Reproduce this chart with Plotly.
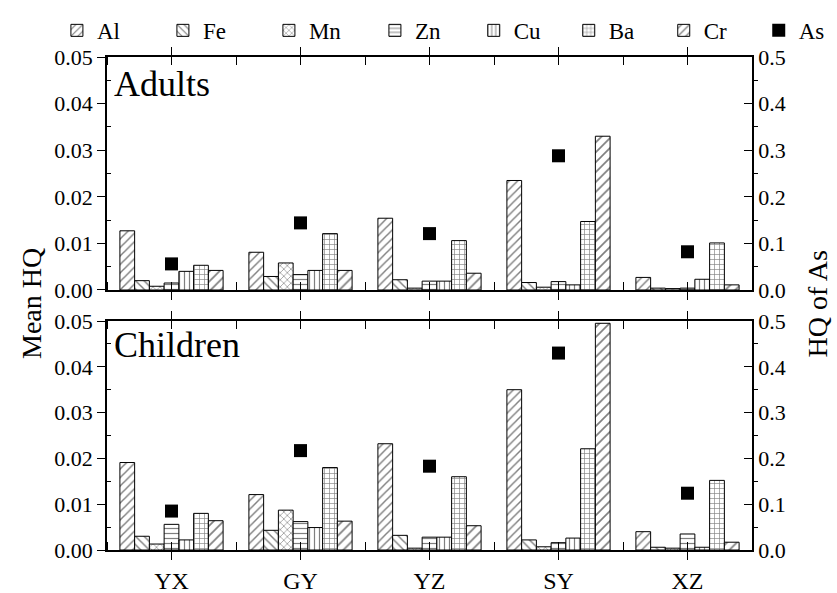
import plotly.graph_objects as go

categories = ["YX", "GY", "YZ", "SY", "XZ"]
elements = ["Al", "Fe", "Mn", "Zn", "Cu", "Ba", "Cr"]

adults = {
    "Al": [0.0127, 0.0081, 0.0154, 0.0235, 0.0027],
    "Fe": [0.0020, 0.0029, 0.0022, 0.0016, 0.0004],
    "Mn": [0.0008, 0.0058, 0.0004, 0.0006, 0.0003],
    "Zn": [0.0015, 0.0033, 0.0019, 0.0018, 0.0004],
    "Cu": [0.0040, 0.0042, 0.0019, 0.0011, 0.0023],
    "Ba": [0.0053, 0.0121, 0.0106, 0.0147, 0.0101],
    "Cr": [0.0042, 0.0042, 0.0036, 0.0330, 0.0011],
}
adults_as = [0.056, 0.144, 0.121, 0.288, 0.082]

children = {
    "Al": [0.0191, 0.0121, 0.0232, 0.0350, 0.0040],
    "Fe": [0.0030, 0.0043, 0.0032, 0.0022, 0.0006],
    "Mn": [0.0013, 0.0087, 0.0004, 0.0007, 0.0004],
    "Zn": [0.0056, 0.0062, 0.0028, 0.0016, 0.0035],
    "Cu": [0.0022, 0.0049, 0.0028, 0.0026, 0.0006],
    "Ba": [0.0080, 0.0180, 0.0160, 0.0221, 0.0152],
    "Cr": [0.0064, 0.0063, 0.0053, 0.0495, 0.0017],
}
children_as = [0.085, 0.217, 0.183, 0.430, 0.124]

left_ticks = [0.00, 0.01, 0.02, 0.03, 0.04, 0.05]
right_ticks = [0.0, 0.1, 0.2, 0.3, 0.4, 0.5]

patterns = {"Al": "/", "Fe": "\\", "Mn": "x", "Zn": "-", "Cu": "|", "Ba": "+", "Cr": "/"}
psize = {"Al": 6, "Fe": 6, "Mn": 5, "Zn": 5, "Cu": 5, "Ba": 5, "Cr": 7}
legend_of = {"Al": "legend", "Fe": "legend", "Mn": "legend", "Zn": "legend",
             "Cu": "legend2", "Ba": "legend2", "Cr": "legend2", "As": "legend2"}

FONT = "Times New Roman, Liberation Serif, serif"
xpos = list(range(len(categories)))

fig = go.Figure()

for panel, data, asv, xa, ya, ya2 in [
    ("A", adults, adults_as, "x", "y", "y2"),
    ("C", children, children_as, "x2", "y3", "y4"),
]:
    for el in elements:
        fig.add_trace(go.Bar(
            x=xpos, y=data[el], name=el, xaxis=xa, yaxis=ya,
            showlegend=(panel == "A"), legendgroup=el, legend=legend_of[el],
            marker=dict(color="white",
                        line=dict(color="black", width=1),
                        pattern=dict(shape=patterns[el], fgcolor="black",
                                     bgcolor="white", size=psize[el], solidity=0.24)),
        ))
    fig.add_trace(go.Scatter(
        x=xpos, y=asv, name="As", mode="markers", xaxis=xa, yaxis=ya2,
        showlegend=(panel == "A"), legendgroup="As", legend=legend_of["As"],
        marker=dict(symbol="square", size=13, color="black"),
    ))

top_dom = [0.5274, 1.0]
bot_dom = [0.0, 0.4645]

xcommon = dict(range=[-0.5, 4.5], showline=True, linecolor="black", linewidth=1.5,
               mirror="allticks", tickmode="array", tickvals=xpos, ticktext=categories,
               ticks="outside", ticklen=8, tickwidth=1.2, tickcolor="black",
               minor=dict(tickmode="array", tickvals=[-0.5 + i for i in range(6)],
                          ticks="inside", ticklen=4, tickwidth=1, tickcolor="black"),
               showgrid=False, zeroline=False,
               tickfont=dict(family=FONT, size=24, color="black"))

ycommon = dict(range=[0, 0.05], tickmode="array", tickvals=left_ticks,
               ticktext=["%.2f" % v for v in left_ticks],
               showline=True, linecolor="black", linewidth=1.5,
               ticks="outside", ticklen=8, tickwidth=1.2, tickcolor="black",
               minor=dict(tickmode="array", tickvals=[0.005, 0.015, 0.025, 0.035, 0.045],
                          ticks="inside", ticklen=4, tickwidth=1, tickcolor="black"),
               showgrid=False, zeroline=False,
               tickfont=dict(family=FONT, size=22, color="black"))

y2common = dict(range=[0, 0.5], tickmode="array", tickvals=right_ticks,
                ticktext=["%.1f" % v for v in right_ticks], side="right",
                showline=True, linecolor="black", linewidth=1.5,
                ticks="inside", ticklen=8, tickwidth=1.2, tickcolor="black",
                minor=dict(tickmode="array", tickvals=[0.05, 0.15, 0.25, 0.35, 0.45],
                           ticks="outside", ticklen=4, tickwidth=1, tickcolor="black"),
                showgrid=False, zeroline=False,
                tickfont=dict(family=FONT, size=22, color="black"))

legend_common = dict(orientation="h", xref="container", yref="container",
                     y=0.985, xanchor="left", yanchor="top",
                     entrywidthmode="pixels", itemwidth=30,
                     font=dict(family=FONT, size=23, color="black"),
                     bgcolor="rgba(0,0,0,0)", tracegroupgap=0)

fig.update_layout(
    width=837, height=593,
    margin=dict(l=107, r=85, t=57, b=43, autoexpand=False),
    plot_bgcolor="white", paper_bgcolor="white",
    barmode="group", bargap=0.2, bargroupgap=0,
    font=dict(family=FONT, color="black"),
    xaxis=dict(xcommon, anchor="y", domain=[0, 1], showticklabels=False),
    xaxis2=dict(xcommon, anchor="y3", domain=[0, 1]),
    yaxis=dict(ycommon, domain=top_dom, anchor="x"),
    yaxis2=dict(y2common, overlaying="y", anchor="x"),
    yaxis3=dict(ycommon, domain=bot_dom, anchor="x2"),
    yaxis4=dict(y2common, overlaying="y3", anchor="x2"),
    legend=dict(legend_common, x=0.068, entrywidth=61),
    legend2=dict(legend_common, x=0.566, entrywidth=50),
    annotations=[
        dict(text="Adults", xref="paper", yref="paper", x=0.008, y=0.99,
             xanchor="left", yanchor="top", showarrow=False,
             font=dict(family=FONT, size=36, color="black")),
        dict(text="Children", xref="paper", yref="paper", x=0.008, y=0.46,
             xanchor="left", yanchor="top", showarrow=False,
             font=dict(family=FONT, size=36, color="black")),
        dict(text="Mean HQ", xref="paper", yref="paper", x=-0.09, y=0.5,
             xanchor="right", yanchor="middle", textangle=-90, showarrow=False,
             font=dict(family=FONT, size=28, color="black")),
        dict(text="HQ of As", xref="paper", yref="paper", x=1.075, y=0.5,
             xanchor="left", yanchor="middle", textangle=-90, showarrow=False,
             font=dict(family=FONT, size=28, color="black")),
    ],
)

fig.write_html("out.html")
